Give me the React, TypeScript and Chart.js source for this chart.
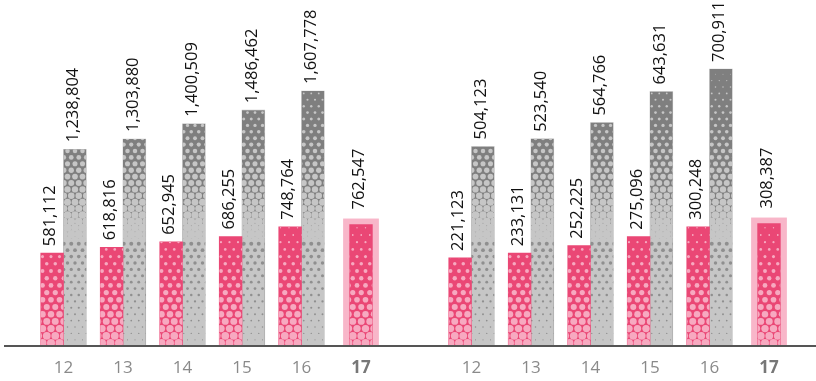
import React, { useEffect, useRef } from 'react';
import { Chart, registerables } from 'chart.js';

Chart.register(...registerables);

// ---- data ----
const categories = ['12', '13', '14', '15', '16', '17'];
const leftPink = [581112, 618816, 652945, 686255, 748764, 762547];
const leftGray = [1238804, 1303880, 1400509, 1486462, 1607778, null];
const rightPink = [221123, 233131, 252225, 275096, 300248, 308387];
const rightGray = [504123, 523540, 564766, 643631, 700911, null];
const leftMax = 2184000;
const rightMax = 876000;
const highlightIndex = 5;

// ---- styles ----
const FONT = '"Open Sans", "Noto Sans", sans-serif';
const PINK = '#ea4775';
const PINK_DOT = '#f7a9c0';
const PINK_HL = '#f8b6c9';
const GRAY_DARK = '#7f7f7f';
const GRAY_LIGHT = '#c6c6c6';
const GRAY_DOT_DARK = '#8f8f8f';

function dotRow(ctx: CanvasRenderingContext2D, l: number, r: number, y: number, off: number, s: number, rad: number) {
  for (let x = Math.floor((l - off) / s) * s + off; x < r + s; x += s) {
    ctx.beginPath();
    ctx.arc(x, y, rad, 0, Math.PI * 2);
    ctx.fill();
  }
}

function drawPinkPattern(ctx: CanvasRenderingContext2D, l: number, r: number, t: number, b: number, bottom: number) {
  ctx.save();
  ctx.beginPath();
  ctx.rect(l, t, r - l, b - t);
  ctx.clip();
  ctx.fillStyle = PINK_DOT;
  const s = 8.5;
  const rowH = 7.2;
  const start = bottom - 130;
  for (let j = Math.floor((bottom - b) / rowH) - 1; bottom - j * rowH > t - rowH; j++) {
    const y = bottom - 2 - j * rowH;
    const off = j % 2 === 0 ? 0 : s / 2;
    const rad = Math.min(4, 0.3 + (3.8 * (y - start)) / 128);
    if (rad <= 0.4) continue;
    dotRow(ctx, l, r, y, off, s, rad);
  }
  ctx.restore();
}

function drawGrayPattern(ctx: CanvasRenderingContext2D, l: number, r: number, t: number, b: number, bottom: number) {
  const mid = bottom - 102;
  const top0 = bottom - 290;
  ctx.save();
  ctx.beginPath();
  ctx.rect(l, t, r - l, b - t);
  ctx.clip();
  ctx.fillStyle = GRAY_DARK;
  ctx.fillRect(l, t, r - l, b - t);
  const s = 7.5;
  const rowH = 6.4;
  // upper region: light dots growing on dark
  ctx.fillStyle = GRAY_LIGHT;
  for (let j = 0; bottom - j * rowH > t - rowH; j++) {
    const y = bottom - 2 - j * rowH;
    const off = j % 2 === 0 ? 0 : s / 2;
    if (y >= mid) continue;
    const rad = Math.min(4.4, (4.4 * (y - top0)) / (mid - top0));
    if (rad <= 0.4) continue;
    dotRow(ctx, l, r, y, off, s, rad);
  }
  // lower region: light fill with shrinking dark dots
  if (b > mid) {
    const y0 = Math.max(t, mid - 1);
    ctx.fillStyle = GRAY_LIGHT;
    ctx.fillRect(l, y0, r - l, b - y0);
    ctx.fillStyle = GRAY_DOT_DARK;
    for (let j = 0; bottom - j * rowH > mid - rowH; j++) {
      const y = bottom - 2 - j * rowH + rowH / 2;
      if (y < mid) continue;
      const off = j % 2 === 0 ? s / 2 : 0;
      const rad = 0.5 + (1.5 * (bottom - y)) / (bottom - mid);
      dotRow(ctx, l, r, y, off, s, rad);
    }
  }
  ctx.restore();
}

const decorPlugin = {
  id: 'decor',
  beforeDatasetsDraw(chart: any) {
    const ctx = chart.ctx as CanvasRenderingContext2D;
    const meta = chart.getDatasetMeta(0);
    const el = meta.data[highlightIndex];
    if (!el) return;
    const { x, y, base, width } = el.getProps(['x', 'y', 'base', 'width'], true);
    ctx.save();
    ctx.fillStyle = PINK_HL;
    ctx.fillRect(x - width / 2 - 6.5, y - 6, width + 13, base - y + 6);
    ctx.restore();
  },
  afterDatasetDraw(chart: any, args: any) {
    const ctx = chart.ctx as CanvasRenderingContext2D;
    const bottom = chart.chartArea.bottom;
    const meta = args.meta;
    meta.data.forEach((el: any, i: number) => {
      const v = chart.data.datasets[args.index].data[i];
      if (v == null) return;
      const { x, y, base, width } = el.getProps(['x', 'y', 'base', 'width'], true);
      const l = x - width / 2;
      const r = x + width / 2;
      if (args.index === 0) drawPinkPattern(ctx, l, r, y, base, bottom);
      else drawGrayPattern(ctx, l, r, y, base, bottom);
    });
  },
  afterDatasetsDraw(chart: any) {
    const ctx = chart.ctx as CanvasRenderingContext2D;
    ctx.save();
    ctx.font = `16.5px ${FONT}`;
    ctx.fillStyle = '#111';
    ctx.textAlign = 'left';
    ctx.textBaseline = 'middle';
    chart.data.datasets.forEach((ds: any, di: number) => {
      const meta = chart.getDatasetMeta(di);
      meta.data.forEach((el: any, i: number) => {
        const v = ds.data[i];
        if (v == null) return;
        const { x, y } = el.getProps(['x', 'y'], true);
        const gap = i === highlightIndex ? 15 : 7;
        ctx.save();
        ctx.translate(x - 1.5, y - gap);
        ctx.rotate(-Math.PI / 2);
        ctx.fillText(Number(v).toLocaleString('en-US'), 0, 0);
        ctx.restore();
      });
    });
    ctx.restore();
  },
};

function BarChart({ pink, gray, max, left }: { pink: (number | null)[]; gray: (number | null)[]; max: number; left: number }) {
  const ref = useRef<HTMLCanvasElement>(null);
  useEffect(() => {
    const chart = new Chart(ref.current as HTMLCanvasElement, {
      type: 'bar',
      data: {
        labels: categories,
        datasets: [
          { data: pink, backgroundColor: PINK, borderWidth: 0, skipNull: true, barThickness: 22.75 } as any,
          { data: gray, backgroundColor: GRAY_LIGHT, borderWidth: 0, skipNull: true, barThickness: 22.75 } as any,
        ],
      },
      options: {
        animation: false,
        responsive: false,
        maintainAspectRatio: false,
        layout: { padding: { left: 33.75, right: 17.25, top: 0, bottom: 0 } },
        plugins: { legend: { display: false }, tooltip: { enabled: false } },
        scales: {
          x: {
            grid: { display: false, drawTicks: false },
            border: { display: false },
            ticks: {
              padding: 13,
              color: (c: any) => (c.index === highlightIndex ? '#777' : '#8a8a8a'),
              font: (c: any) => ({ family: FONT, size: 17, weight: c.index === highlightIndex ? 'bold' : 'normal' }),
            },
            afterFit: (s: any) => {
              s.height = 36;
            },
          } as any,
          y: { display: false, min: 0, max },
        },
      },
      plugins: [decorPlugin],
    });
    return () => chart.destroy();
  }, []);
  return (
    <canvas
      ref={ref}
      width={408}
      height={381}
      style={{ position: 'absolute', left, top: 0, width: 408, height: 381 }}
    />
  );
}

export default function App() {
  return (
    <div style={{ position: 'absolute', left: 0, top: 0, width: 816, height: 381, background: '#fff', overflow: 'hidden' }}>
      <BarChart pink={leftPink} gray={leftGray} max={leftMax} left={0} />
      <BarChart pink={rightPink} gray={rightGray} max={rightMax} left={408} />
      <div style={{ position: 'absolute', left: 4, top: 345, width: 812, height: 2, background: '#555' }} />
    </div>
  );
}
